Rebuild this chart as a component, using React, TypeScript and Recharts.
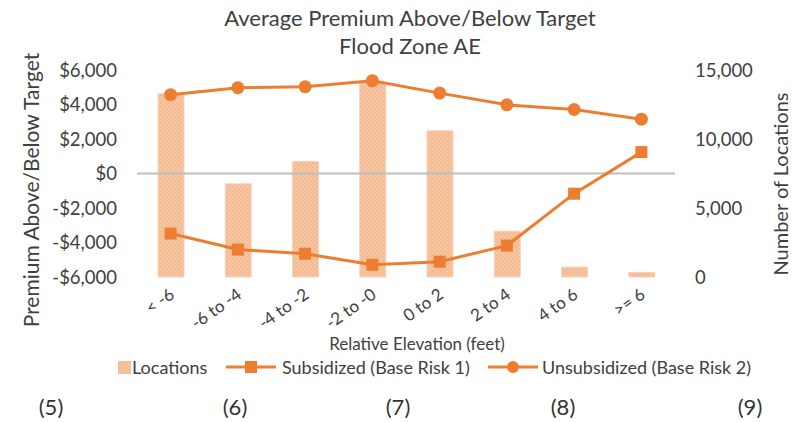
import { ComposedChart, Bar, Line, XAxis, YAxis, ReferenceLine } from 'recharts';

// relative elevation buckets (feet)
const categories = ['< -6', '-6 to -4', '-4 to -2', '-2 to -0', '0 to 2', '2 to 4', '4 to 6', '>= 6'];
// number of locations (right axis)
const locations = [13290, 6750, 8370, 14090, 10590, 3320, 715, 330];
// average premium above/below target (left axis)
const subsidized = [-3480, -4410, -4650, -5290, -5110, -4180, -1170, 1240];
const unsubsidized = [4570, 4970, 5030, 5380, 4660, 3980, 3710, 3150];

const premiumTicks = [-6000, -4000, -2000, 0, 2000, 4000, 6000];
const locationTicks = [0, 5000, 10000, 15000];
const panelLabels = ['(5)', '(6)', '(7)', '(8)', '(9)'];
const panelX = [51, 235, 398, 563, 750];

const ORANGE = '#ED7D31';
const TEXT = '#404040';
const FONT = 'Lato, "Open Sans", sans-serif';

const data = categories.map((name, i) => ({
  name,
  locations: locations[i],
  subsidized: subsidized[i],
  unsubsidized: unsubsidized[i],
}));

const fmtMoney = (v: number) => (v < 0 ? '-$' : '$') + Math.abs(v).toLocaleString('en-US');
const fmtCount = (v: number) => v.toLocaleString('en-US');

const ElevTick = ({ x, y, payload }: any) => {
  const ax = x + 5;
  const ay = y + 12;
  return (
    <text
      x={ax}
      y={ay}
      transform={`rotate(-35, ${ax}, ${ay})`}
      textAnchor="end"
      fontSize={17}
      fill={TEXT}
      fontFamily={FONT}
    >
      {payload.value}
    </text>
  );
};

const SquareDot = ({ cx, cy }: any) => {
  if (cx == null || cy == null) return null;
  return <rect x={cx - 6} y={cy - 6} width={12} height={12} fill={ORANGE} />;
};

const RoundDot = ({ cx, cy }: any) => {
  if (cx == null || cy == null) return null;
  return <circle cx={cx} cy={cy} r={6.5} fill={ORANGE} />;
};

const abs = (extra: any) => ({ position: 'absolute' as const, fontFamily: FONT, color: TEXT, whiteSpace: 'nowrap' as const, ...extra });

export default function App() {
  return (
    <div style={{ position: 'absolute', left: 0, top: 0, width: 806, height: 422, background: '#fff', overflow: 'hidden' }}>
      <ComposedChart
        width={806}
        height={422}
        data={data}
        margin={{ top: 70, right: 0, bottom: 85, left: 0 }}
      >
        <defs>
          <pattern id="locPat" width="4" height="4" patternUnits="userSpaceOnUse">
            <rect width="4" height="4" fill="#F4BA91" />
            <rect width="2" height="2" fill="#F6C6A3" />
            <rect x="2" y="2" width="2" height="2" fill="#F6C6A3" />
          </pattern>
        </defs>
        <XAxis
          dataKey="name"
          height={60}
          axisLine={false}
          tickLine={false}
          interval={0}
          tick={<ElevTick />}
        />
        <YAxis
          yAxisId="left"
          width={137}
          domain={[-6000, 6000]}
          ticks={premiumTicks}
          tickFormatter={fmtMoney}
          axisLine={false}
          tickLine={false}
          tickSize={0}
          tickMargin={20}
          tick={{ fontSize: 18.5, fill: TEXT, fontFamily: FONT }}
        />
        <YAxis
          yAxisId="right"
          orientation="right"
          width={131}
          domain={[0, 15000]}
          ticks={locationTicks}
          tickFormatter={fmtCount}
          axisLine={false}
          tickLine={false}
          tickSize={0}
          tickMargin={20}
          tick={{ fontSize: 18.5, fill: TEXT, fontFamily: FONT, textAnchor: 'start' }}
        />
        <Bar
          yAxisId="right"
          dataKey="locations"
          barSize={26}
          fill="url(#locPat)"
          stroke="#F8D3B8"
          strokeWidth={1}
          isAnimationActive={false}
        />
        <ReferenceLine yAxisId="left" y={0} stroke="#BFBFBF" strokeWidth={2} />
        <Line
          yAxisId="left"
          dataKey="subsidized"
          stroke={ORANGE}
          strokeWidth={3}
          dot={<SquareDot />}
          activeDot={false}
          isAnimationActive={false}
        />
        <Line
          yAxisId="left"
          dataKey="unsubsidized"
          stroke={ORANGE}
          strokeWidth={3}
          dot={<RoundDot />}
          activeDot={false}
          isAnimationActive={false}
        />
      </ComposedChart>

      <div style={abs({ left: 0, width: 820, top: 4, textAlign: 'center', fontSize: 22, lineHeight: '28px' })}>
        Average Premium Above/Below Target
        <br />
        Flood Zone AE
      </div>

      <div style={abs({ left: 30, top: 190, fontSize: 21, transform: 'translate(-50%, -50%) rotate(-90deg)' })}>
        Premium Above/Below Target
      </div>
      <div style={abs({ left: 780, top: 184, fontSize: 20, transform: 'translate(-50%, -50%) rotate(-90deg)' })}>
        Number of Locations
      </div>

      <div style={abs({ left: 417, top: 344, fontSize: 17, lineHeight: '18px', transform: 'translate(-50%, -50%)' })}>
        Relative Elevation (feet)
      </div>

      <div style={abs({ left: 0, top: 357, fontSize: 18, lineHeight: '21px', width: 806 })}>
        <svg style={{ position: 'absolute', left: 118, top: 4 }} width={13} height={13}>
          <rect width={13} height={13} fill="url(#locPat)" />
        </svg>
        <span style={{ position: 'absolute', left: 132 }}>Locations</span>
        <svg style={{ position: 'absolute', left: 226, top: 2 }} width={50} height={16}>
          <line x1={0} y1={8} x2={50} y2={8} stroke={ORANGE} strokeWidth={3} />
          <rect x={19} y={2} width={12} height={12} fill={ORANGE} />
        </svg>
        <span style={{ position: 'absolute', left: 282 }}>Subsidized (Base Risk 1)</span>
        <svg style={{ position: 'absolute', left: 488, top: 2 }} width={50} height={16}>
          <line x1={0} y1={8} x2={50} y2={8} stroke={ORANGE} strokeWidth={3} />
          <circle cx={25} cy={8} r={6} fill={ORANGE} />
        </svg>
        <span style={{ position: 'absolute', left: 542 }}>Unsubsidized (Base Risk 2)</span>
      </div>

      {panelLabels.map((label, i) => (
        <div key={label} style={abs({ left: panelX[i], top: 406, fontSize: 22, transform: 'translate(-50%, -50%)', color: '#333' })}>
          {label}
        </div>
      ))}
    </div>
  );
}
